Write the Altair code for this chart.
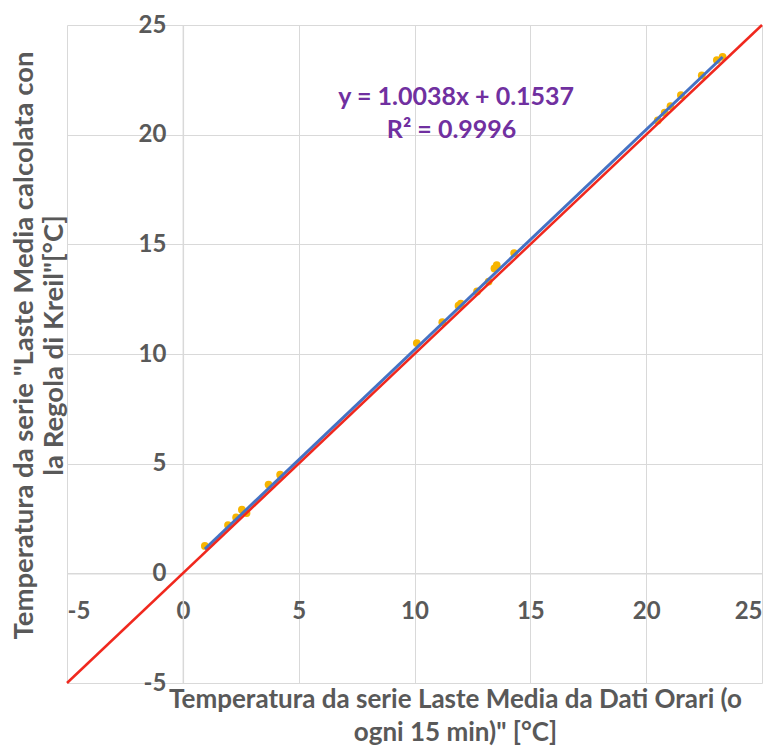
import altair as alt
import pandas as pd

# Observed data points (x: hourly-average series, y: Kreil-rule series)
xs = [0.95, 1.95, 2.3, 2.55, 2.75, 3.7, 4.2, 10.1, 11.2, 11.9, 12.0, 12.7,
      13.2, 13.45, 13.55, 14.3, 20.5, 20.8, 21.05, 21.5, 22.4, 23.05, 23.3]
ys = [1.25, 2.2, 2.55, 2.9, 2.75, 4.05, 4.5, 10.5, 11.45, 12.2, 12.3, 12.85,
      13.3, 13.9, 14.05, 14.6, 20.65, 21.0, 21.3, 21.8, 22.7, 23.4, 23.55]

slope = 1.0038
intercept = 0.1537
r2 = 0.9996

axis_min = -5
axis_max = 25
ticks = [-5, 0, 5, 10, 15, 20, 25]

eq_lines = ["y = 1.0038x + 0.1537", "R² = 0.9996"]
eq_x = [11.8, 11.6]
eq_y = [21.7, 20.2]

x_title = ["Temperatura da serie Laste Media da Dati Orari (o", "ogni 15 min)\" [°C]"]
y_title = ["Temperatura da serie \"Laste Media calcolata con", "la Regola di Kreil\"[°C]"]

W, H = 695, 658
FONT = "Lato"
GRAY = "#595959"
GRID = "#D9D9D9"

pts = pd.DataFrame({"x": xs, "y": ys})
trend = pd.DataFrame({"x": [min(xs), max(xs)]})
trend["y"] = slope * trend["x"] + intercept
ident = pd.DataFrame({"x": [axis_min, axis_max], "y": [axis_min, axis_max]})
eq = pd.DataFrame({"x": eq_x, "y": eq_y, "t": eq_lines})

xoff = -H * (0 - axis_min) / (axis_max - axis_min)
yoff = -W * (0 - axis_min) / (axis_max - axis_min)

xscale = alt.Scale(domain=[axis_min, axis_max], nice=False, zero=False)
yscale = alt.Scale(domain=[axis_min, axis_max], nice=False, zero=False)

xaxis = alt.Axis(values=ticks, offset=xoff, grid=True, gridColor=GRID, domainColor=GRID,
                 domainWidth=1.5, ticks=False, labelFont=FONT, labelFontSize=24,
                 labelFontWeight="bold", labelColor=GRAY, labelPadding=26,
                 labelExpr="'' + datum.value",
                 title=x_title, titleFont=FONT, titleFontSize=26, titleFontWeight="bold",
                 titleColor=GRAY, titleX=388, titleY=113, titleBaseline="top",
                 titleAlign="center", titleLineHeight=33)
yaxis = alt.Axis(values=ticks, offset=yoff, grid=True,
                 gridColor=GRID, domainColor=GRID, domainWidth=1.5, ticks=False,
                 labelFont=FONT, labelFontSize=24, labelFontWeight="bold", labelColor=GRAY,
                 labelPadding=17, labelExpr="'' + datum.value",
                 title=y_title, titleFont=FONT, titleFontSize=27.5,
                 titleFontWeight="bold", titleColor=GRAY, titleX=-158, titleY=320,
                 titleAngle=-90, titleAlign="center", titleBaseline="middle",
                 titleLineHeight=30)

base_x = alt.X("x:Q", scale=xscale, axis=xaxis)
base_y = alt.Y("y:Q", scale=yscale, axis=yaxis)

points = alt.Chart(pts).mark_circle(size=60, color="#F7B500", opacity=1).encode(x=base_x, y=base_y)
tline = alt.Chart(trend).mark_line(color="#4472C4", strokeWidth=3).encode(x="x:Q", y="y:Q")
iline = alt.Chart(ident).mark_line(color="#F0281E", strokeWidth=2.5).encode(x="x:Q", y="y:Q")
text = alt.Chart(eq).mark_text(font=FONT, fontSize=25, fontWeight="bold", color="#7030A0").encode(
    x="x:Q", y="y:Q", text="t:N")

chart = alt.layer(points, tline, iline, text).properties(
    width=W, height=H,
    autosize=alt.AutoSizeParams(type="none"),
    padding={"left": 59, "top": 17, "right": 8, "bottom": 68},
).configure_view(stroke=None)

chart.save("out.html", embed_options={"renderer": "svg", "actions": False})
